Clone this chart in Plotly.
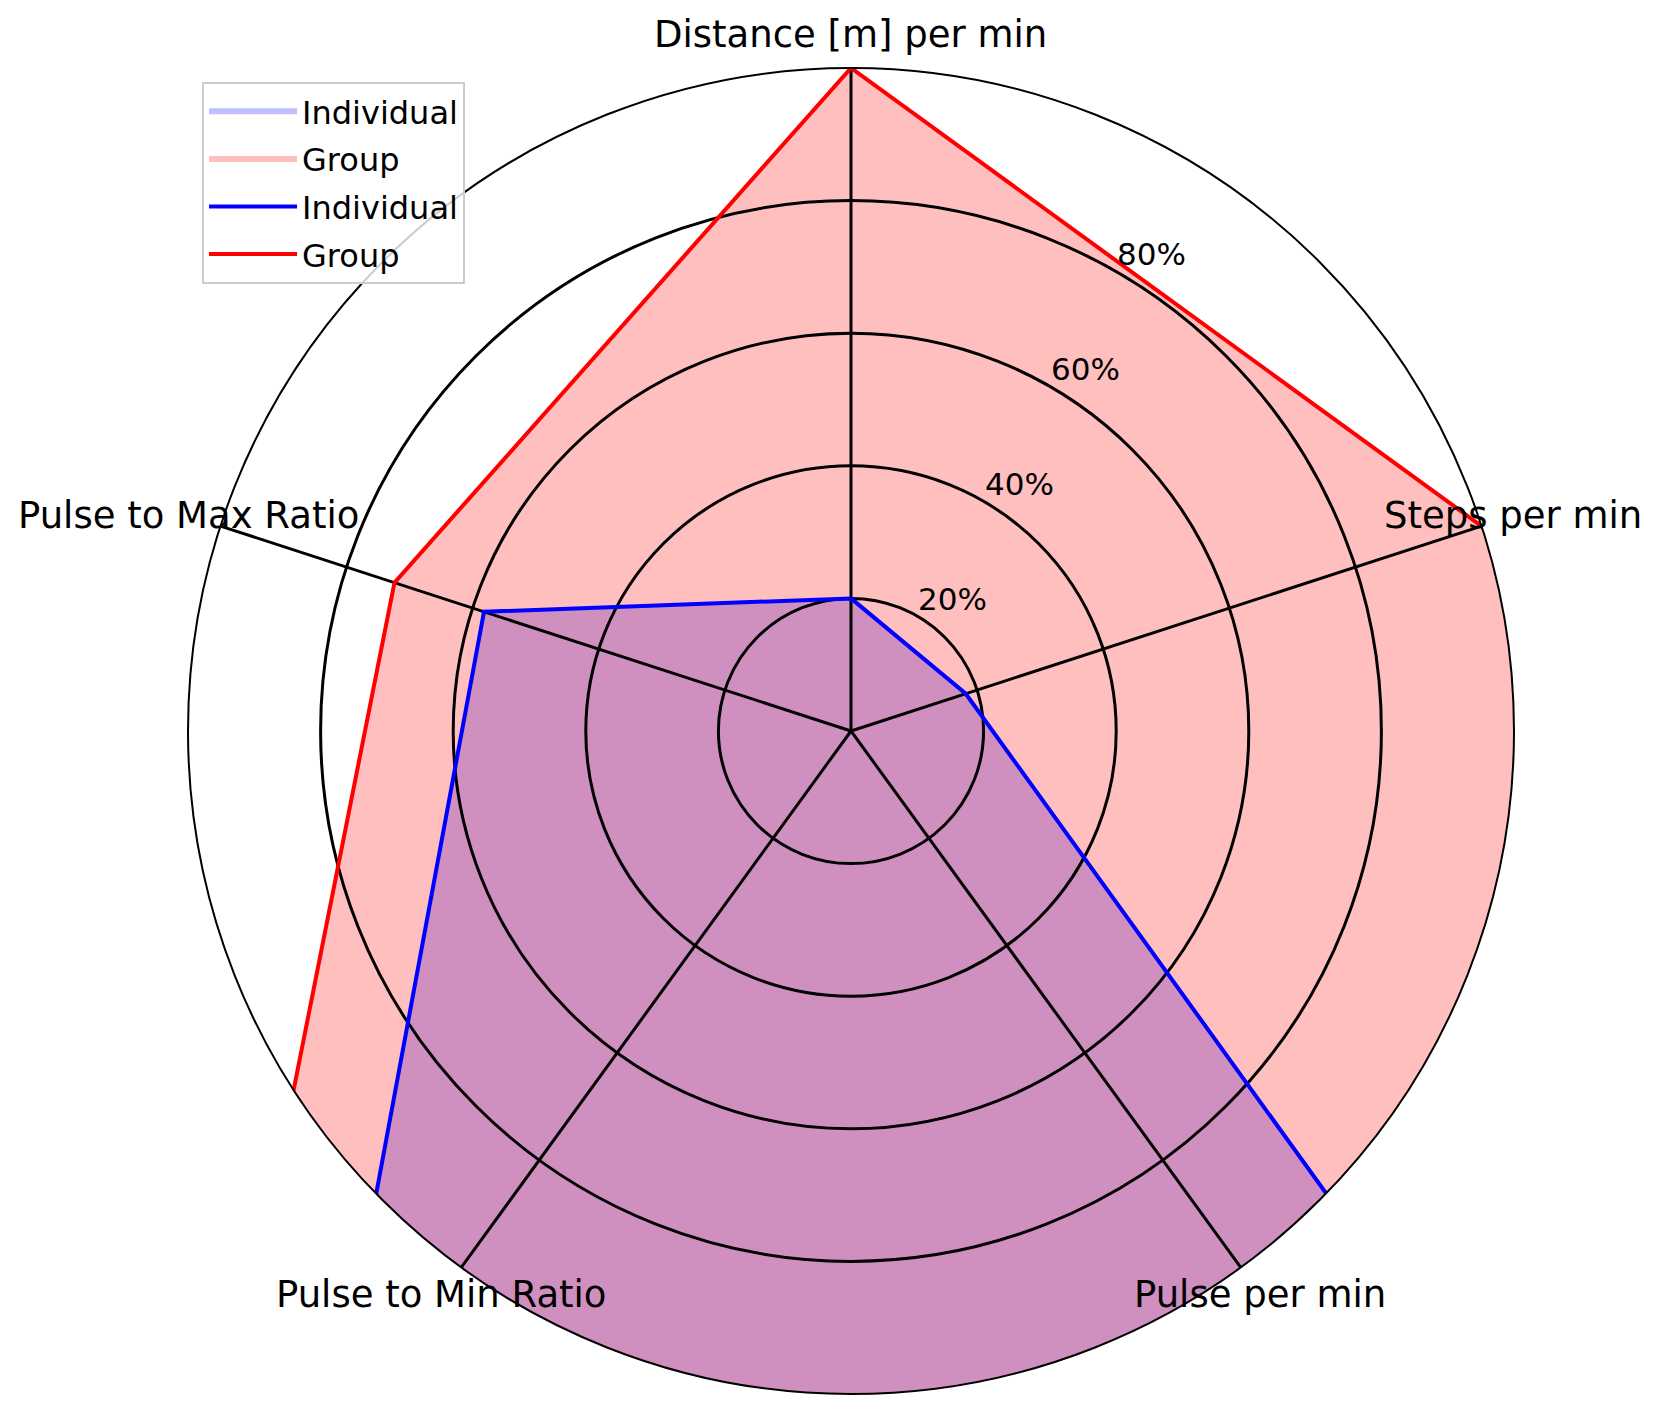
from math import cos, sin, radians

import plotly.graph_objects as go

categories = ['Distance [m] per min', 'Steps per min', 'Pulse per min',
              'Pulse to Min Ratio', 'Pulse to Max Ratio']

# values in % of the group reference, several of them run past the 100% rim
individual = [20.0, 18.2, 5000.0, 134.0, 58.2]
group = [100.0, 100.0, 5000.0, 171.7, 72.4]

radial_ticks = [20, 40, 60, 80]
radial_labels = ['20%', '40%', '60%', '80%']

font_family = 'DejaVu Sans'
W, H = 1660, 1412
cx, cy, radius = 843, 723, 663  # polar centre and rim radius in px
domain = dict(x=[(cx - radius) / W, (cx + radius) / W],
              y=[(H - cy - radius) / H, (H - cy + radius) / H])


def closed(values):
    return values + values[:1]


def polar_to_paper(dist, angle_deg, shift=0.0):
    # dist along the ray, shift perpendicular to it (clockwise side)
    a = radians(angle_deg)
    x = cx + dist * cos(a) + shift * sin(a)
    y = (H - cy) + dist * sin(a) - shift * cos(a)
    return x / W, y / H


fig = go.Figure()

# fills go on the lower polar so the grid of the upper one sits on top of them
fig.add_trace(go.Scatterpolar(
    r=closed(individual), theta=closed(categories),
    mode='none', fill='toself', fillcolor='rgba(0,0,255,0.25)',
    name='Individual', legendgroup='fill ind', subplot='polar', hoverinfo='skip'
))
fig.add_trace(go.Scatterpolar(
    r=closed(group), theta=closed(categories),
    mode='none', fill='toself', fillcolor='rgba(255,0,0,0.25)',
    name='Group', legendgroup='fill grp', subplot='polar', hoverinfo='skip'
))
fig.add_trace(go.Scatterpolar(
    r=closed(individual), theta=closed(categories),
    mode='lines', line=dict(color='#0000ff', width=4),
    name='Individual', legendgroup='line ind', subplot='polar2'
))
fig.add_trace(go.Scatterpolar(
    r=closed(group), theta=closed(categories),
    mode='lines', line=dict(color='#ff0000', width=4),
    name='Group', legendgroup='line grp', subplot='polar2'
))

annotations = []
# category names centred just outside the rim, like matplotlib does
for i, cat in enumerate(categories):
    x, y = polar_to_paper(1.05 * radius, 90 - 360 * i / len(categories))
    annotations.append(dict(
        x=x, y=y, xref='paper', yref='paper',
        xanchor='center', yanchor='middle',
        text=cat, showarrow=False,
        font=dict(family=font_family, size=37, color='black')
    ))

# radial tick labels sit a bit outside their ring, along the 60 deg ray
for t, lab in zip(radial_ticks, radial_labels):
    x, y = polar_to_paper(t / 100 * radius + 33, 60, 22)
    annotations.append(dict(
        x=x, y=y, xref='paper', yref='paper',
        xanchor='center', yanchor='middle',
        text=lab, showarrow=False,
        font=dict(family=font_family, size=31, color='black')
    ))

angular_common = dict(
    rotation=90, direction='clockwise',
    categoryorder='array', categoryarray=categories,
    showticklabels=False, ticks=''
)

fig.update_layout(
    width=W,
    height=H,
    margin=dict(l=0, r=0, t=0, b=0),
    paper_bgcolor='white',
    font=dict(family=font_family, color='black'),
    annotations=annotations,
    polar=dict(
        domain=domain,
        bgcolor='white',
        radialaxis=dict(range=[0, 100], showgrid=False, showline=False,
                        showticklabels=False, ticks=''),
        angularaxis=dict(showgrid=False, showline=False, **angular_common)
    ),
    polar2=dict(
        domain=domain,
        bgcolor='rgba(0,0,0,0)',
        radialaxis=dict(
            range=[0, 100], tickvals=radial_ticks,
            showticklabels=False, showline=False, ticks='',
            gridcolor='black', gridwidth=3
        ),
        angularaxis=dict(
            showgrid=True, gridcolor='black', gridwidth=3,
            showline=True, linecolor='black', linewidth=2,
            **angular_common
        )
    ),
    legend=dict(
        x=0.1169, y=0.9476, xanchor='left', yanchor='top',
        font=dict(family=font_family, size=32, color='black'),
        bgcolor='rgba(255,255,255,0.8)',
        bordercolor='#cccccc', borderwidth=2,
        itemwidth=88, tracegroupgap=3
    )
)

fig.write_html("out.html")
